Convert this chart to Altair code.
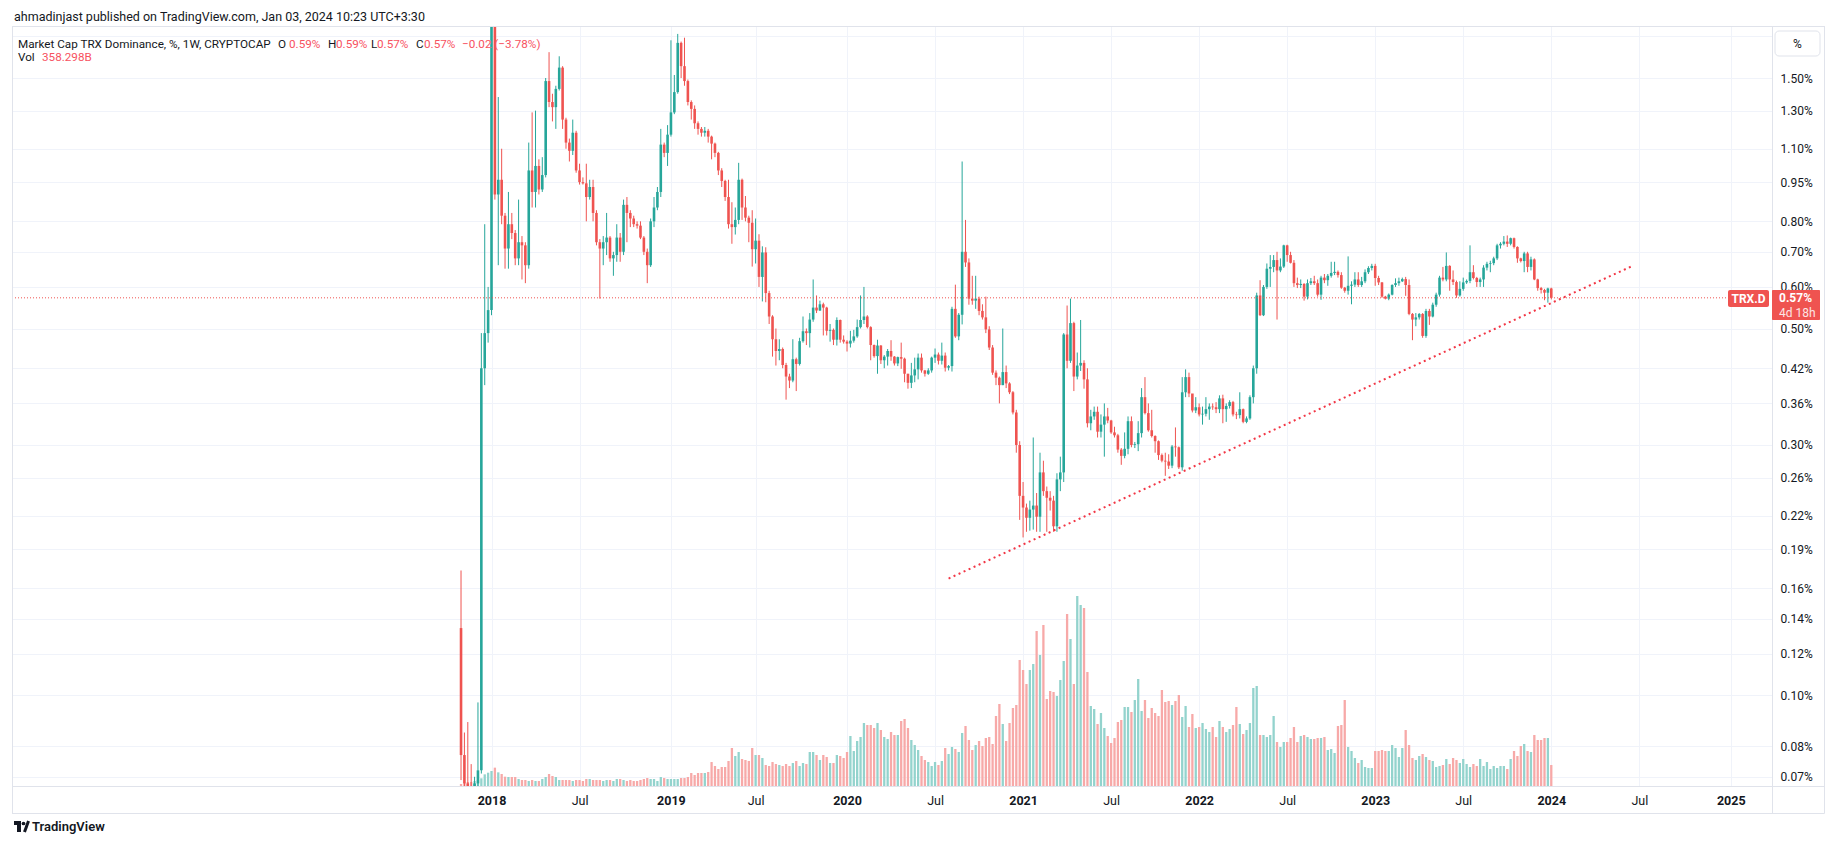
import altair as alt
import pandas as pd

# ---------------- data ----------------
FIRST_WEEK = "2017-10-30"   # first weekly bar (Mondays)
FIRST_OPEN = 0.1344

close = [
    0.077, 0.068, 0.0672, 0.0668, 0.068, 0.072, 0.42, 0.49, 0.542, 2.30,
    0.90, 0.96, 0.82, 0.71, 0.79, 0.76, 0.68, 0.73, 0.72, 0.66,
    1.00, 0.91, 1.02, 0.92, 0.98, 1.48, 1.35, 1.32, 1.43, 1.57,
    1.25, 1.13, 1.09, 1.18, 1.00, 0.95, 0.945, 0.89, 0.93, 0.83,
    0.73, 0.71, 0.73, 0.745, 0.68, 0.69, 0.745, 0.70, 0.86, 0.83,
    0.81, 0.79, 0.785, 0.745, 0.70, 0.66, 0.80, 0.85, 0.91, 1.12,
    1.08, 1.17, 1.29, 1.41, 1.75, 1.58, 1.48, 1.35, 1.31, 1.23,
    1.20, 1.18, 1.19, 1.16, 1.125, 1.08, 1.00, 0.955, 0.89, 0.79,
    0.78, 0.805, 0.96, 0.85, 0.813, 0.795, 0.708, 0.735, 0.627, 0.698,
    0.584, 0.527, 0.477, 0.453, 0.457, 0.426, 0.405, 0.398, 0.437, 0.428,
    0.473, 0.494, 0.49, 0.52, 0.548, 0.541, 0.556, 0.548, 0.495, 0.497,
    0.476, 0.519, 0.476, 0.472, 0.468, 0.474, 0.483, 0.503, 0.519, 0.527,
    0.503, 0.465, 0.443, 0.464, 0.435, 0.442, 0.453, 0.442, 0.429, 0.441,
    0.438, 0.41, 0.394, 0.407, 0.418, 0.44, 0.416, 0.41, 0.416, 0.44,
    0.446, 0.434, 0.444, 0.421, 0.424, 0.545, 0.483, 0.531, 0.70, 0.668,
    0.57, 0.565, 0.57, 0.54, 0.525, 0.498, 0.46, 0.412, 0.403, 0.39,
    0.413, 0.393, 0.378, 0.346, 0.30, 0.24, 0.228, 0.218, 0.226, 0.23,
    0.219, 0.266, 0.245, 0.238, 0.235, 0.21, 0.258, 0.266, 0.487, 0.434,
    0.512, 0.405, 0.425, 0.43, 0.40, 0.33, 0.34, 0.347, 0.318, 0.328,
    0.34, 0.334, 0.317, 0.313, 0.294, 0.286, 0.295, 0.333, 0.30, 0.301,
    0.316, 0.37, 0.345, 0.32, 0.312, 0.305, 0.287, 0.28, 0.279, 0.274,
    0.298, 0.297, 0.272, 0.378, 0.404, 0.376, 0.349, 0.354, 0.343, 0.344,
    0.351, 0.355, 0.354, 0.351, 0.368, 0.351, 0.356, 0.362, 0.343, 0.342,
    0.351, 0.332, 0.337, 0.37, 0.42, 0.578, 0.53, 0.60, 0.65, 0.655,
    0.675, 0.645, 0.656, 0.72, 0.69, 0.667, 0.61, 0.605, 0.608, 0.575,
    0.61, 0.615, 0.61, 0.58, 0.625, 0.618, 0.63, 0.638, 0.641, 0.632,
    0.598, 0.59, 0.603, 0.606, 0.62, 0.605, 0.615, 0.64, 0.652, 0.658,
    0.624, 0.612, 0.575, 0.57, 0.58, 0.605, 0.61, 0.615, 0.621, 0.605,
    0.533, 0.52, 0.525, 0.533, 0.484, 0.54, 0.527, 0.555, 0.58, 0.625,
    0.62, 0.658, 0.62, 0.613, 0.578, 0.595, 0.612, 0.616, 0.64, 0.624,
    0.613, 0.62, 0.653, 0.664, 0.666, 0.68, 0.72, 0.725, 0.732, 0.725,
    0.743, 0.715, 0.68, 0.672, 0.695, 0.655, 0.677, 0.62, 0.597, 0.592,
    0.585, 0.596, 0.572,
]

high = [
    0.173, 0.085, 0.089, 0.074, 0.070, 0.097, 0.49, 0.79, 0.60, 2.60,
    2.40, 1.38, 1.10, 0.83, 0.91, 0.83, 0.77, 0.88, 0.75, 0.73,
    1.13, 1.29, 1.30, 1.05, 1.06, 1.50, 1.68, 1.40, 1.45, 1.65,
    1.58, 1.26, 1.15, 1.25, 1.19, 1.03, 0.97, 1.03, 0.96, 0.96,
    0.84, 0.74, 0.75, 0.83, 0.75, 0.70, 0.79, 0.76, 0.88, 0.89,
    0.84, 0.82, 0.80, 0.80, 0.75, 0.71, 0.81, 0.89, 0.93, 1.20,
    1.13, 1.22, 1.77, 1.52, 1.82, 1.76, 1.79, 1.49, 1.36, 1.33,
    1.24, 1.21, 1.21, 1.20, 1.165, 1.13, 1.085, 1.01, 0.96, 0.96,
    0.87, 0.85, 1.034, 0.965, 0.894, 0.82, 0.84, 0.81, 0.756, 0.717,
    0.714, 0.59, 0.53, 0.50, 0.477, 0.46, 0.43, 0.41, 0.477, 0.44,
    0.48, 0.527, 0.50, 0.535, 0.62, 0.578, 0.565, 0.56, 0.55, 0.51,
    0.50, 0.525, 0.52, 0.485, 0.475, 0.495, 0.497, 0.52, 0.578, 0.60,
    0.53, 0.505, 0.466, 0.476, 0.465, 0.445, 0.457, 0.475, 0.443, 0.442,
    0.47, 0.44, 0.41, 0.43, 0.44, 0.448, 0.448, 0.417, 0.42, 0.442,
    0.458, 0.45, 0.47, 0.45, 0.426, 0.55, 0.606, 0.535, 1.04, 0.805,
    0.68, 0.63, 0.63, 0.575, 0.556, 0.575, 0.505, 0.465, 0.416, 0.405,
    0.50, 0.425, 0.395, 0.38, 0.35, 0.305, 0.255, 0.232, 0.235, 0.31,
    0.243, 0.29, 0.28, 0.25, 0.245, 0.24, 0.265, 0.285, 0.49, 0.553,
    0.57, 0.515, 0.45, 0.519, 0.435, 0.42, 0.35, 0.355, 0.355, 0.343,
    0.36, 0.353, 0.335, 0.325, 0.315, 0.296, 0.317, 0.34, 0.34, 0.304,
    0.333, 0.385, 0.404, 0.36, 0.35, 0.313, 0.306, 0.289, 0.29, 0.288,
    0.30, 0.324, 0.298, 0.404, 0.418, 0.412, 0.375, 0.37, 0.36, 0.355,
    0.37, 0.36, 0.36, 0.362, 0.373, 0.374, 0.36, 0.365, 0.364, 0.347,
    0.378, 0.352, 0.34, 0.373, 0.425, 0.585, 0.618, 0.605, 0.665, 0.69,
    0.69, 0.70, 0.68, 0.722, 0.722, 0.70, 0.675, 0.625, 0.62, 0.61,
    0.62, 0.624, 0.63, 0.62, 0.63, 0.635, 0.635, 0.67, 0.67, 0.645,
    0.64, 0.60, 0.686, 0.615, 0.64, 0.64, 0.627, 0.648, 0.657, 0.664,
    0.664, 0.63, 0.613, 0.577, 0.583, 0.607, 0.623, 0.625, 0.625, 0.627,
    0.62, 0.535, 0.535, 0.535, 0.535, 0.545, 0.545, 0.56, 0.585, 0.63,
    0.655, 0.698, 0.66, 0.645, 0.617, 0.615, 0.625, 0.62, 0.72, 0.66,
    0.627, 0.625, 0.66, 0.67, 0.673, 0.685, 0.725, 0.73, 0.75, 0.752,
    0.745, 0.745, 0.717, 0.682, 0.70, 0.70, 0.685, 0.68, 0.622, 0.60,
    0.595, 0.598, 0.598,
]

low = [
    0.069, 0.066, 0.066, 0.066, 0.066, 0.067, 0.071, 0.39, 0.47, 0.53,
    0.88, 0.66, 0.79, 0.65, 0.65, 0.74, 0.66, 0.66, 0.62, 0.61,
    0.65, 0.85, 0.85, 0.90, 0.91, 0.97, 1.32, 1.24, 1.20, 1.42,
    1.20, 1.10, 1.04, 1.07, 0.99, 0.94, 0.94, 0.80, 0.88, 0.80,
    0.72, 0.57, 0.66, 0.69, 0.67, 0.63, 0.67, 0.67, 0.69, 0.73,
    0.78, 0.78, 0.775, 0.74, 0.69, 0.61, 0.655, 0.78, 0.84, 0.89,
    1.06, 1.02, 1.16, 1.28, 1.40, 1.50, 1.45, 1.33, 1.25, 1.20,
    1.17, 1.16, 1.16, 1.13, 1.05, 1.06, 0.98, 0.93, 0.875, 0.775,
    0.725, 0.755, 0.79, 0.805, 0.80, 0.73, 0.656, 0.665, 0.60, 0.563,
    0.561, 0.51, 0.442, 0.425, 0.435, 0.42, 0.366, 0.385, 0.395, 0.38,
    0.425, 0.47, 0.465, 0.46, 0.515, 0.535, 0.54, 0.485, 0.485, 0.472,
    0.465, 0.464, 0.47, 0.468, 0.452, 0.46, 0.47, 0.48, 0.50, 0.51,
    0.50, 0.435, 0.44, 0.41, 0.428, 0.42, 0.425, 0.434, 0.425, 0.424,
    0.419, 0.395, 0.384, 0.385, 0.395, 0.40, 0.412, 0.405, 0.408, 0.412,
    0.43, 0.427, 0.427, 0.414, 0.416, 0.414, 0.48, 0.475, 0.509, 0.655,
    0.555, 0.555, 0.545, 0.53, 0.52, 0.49, 0.455, 0.408, 0.39, 0.36,
    0.39, 0.385, 0.375, 0.343, 0.29, 0.216, 0.20, 0.205, 0.206, 0.207,
    0.205, 0.205, 0.24, 0.205, 0.225, 0.205, 0.205, 0.245, 0.255, 0.42,
    0.43, 0.38, 0.40, 0.415, 0.384, 0.324, 0.32, 0.335, 0.31, 0.31,
    0.285, 0.33, 0.315, 0.31, 0.29, 0.275, 0.283, 0.288, 0.297, 0.296,
    0.292, 0.31, 0.343, 0.318, 0.31, 0.29, 0.281, 0.278, 0.262, 0.27,
    0.271, 0.285, 0.27, 0.268, 0.37, 0.37, 0.346, 0.345, 0.34, 0.328,
    0.34, 0.335, 0.35, 0.345, 0.345, 0.33, 0.332, 0.352, 0.34, 0.336,
    0.337, 0.33, 0.33, 0.335, 0.36, 0.41, 0.528, 0.528, 0.595, 0.60,
    0.64, 0.52, 0.64, 0.652, 0.67, 0.665, 0.60, 0.597, 0.597, 0.565,
    0.568, 0.605, 0.605, 0.575, 0.567, 0.61, 0.603, 0.625, 0.632, 0.625,
    0.595, 0.585, 0.58, 0.556, 0.60, 0.60, 0.60, 0.61, 0.635, 0.645,
    0.603, 0.605, 0.572, 0.568, 0.566, 0.578, 0.60, 0.603, 0.613, 0.577,
    0.53, 0.475, 0.505, 0.52, 0.48, 0.48, 0.508, 0.525, 0.55, 0.575,
    0.615, 0.615, 0.59, 0.605, 0.572, 0.575, 0.59, 0.608, 0.61, 0.62,
    0.60, 0.60, 0.60, 0.645, 0.64, 0.66, 0.675, 0.71, 0.72, 0.715,
    0.72, 0.71, 0.667, 0.668, 0.64, 0.64, 0.645, 0.618, 0.59, 0.583,
    0.566, 0.56, 0.568,
]

volume_bn = [
    34, 57, 68, 68, 85, 102, 131, 199, 227, 256,
    313, 233, 205, 159, 154, 154, 154, 119, 102, 102,
    85, 102, 85, 85, 119, 154, 205, 171, 154, 102,
    102, 102, 102, 85, 102, 102, 85, 119, 119, 102,
    102, 102, 85, 102, 102, 85, 119, 119, 102, 85,
    102, 85, 85, 102, 119, 136, 119, 119, 85, 154,
    136, 119, 119, 119, 119, 136, 136, 154, 222, 188,
    222, 222, 222, 239, 409, 341, 290, 324, 324, 427,
    648, 512, 580, 461, 444, 427, 648, 529, 529, 478,
    358, 341, 409, 375, 358, 341, 375, 341, 392, 427,
    341, 392, 375, 580, 580, 529, 444, 529, 495, 392,
    392, 529, 512, 478, 580, 853, 597, 768, 836, 1075,
    1041, 1041, 990, 1075, 955, 836, 802, 921, 870, 870,
    1109, 1143, 990, 785, 699, 614, 512, 444, 409, 341,
    409, 358, 427, 648, 546, 665, 631, 580, 904, 1024,
    785, 614, 699, 768, 682, 819, 836, 717, 1194, 1399,
    1058, 768, 1075, 1331, 1382, 2150, 1979, 1740, 1979, 2081,
    2644, 2235, 2747, 1484, 1621, 1604, 1535, 1808, 2133, 2934,
    2508, 1740, 3242, 3088, 3037, 1945, 1365, 1314, 1058, 1245,
    990, 853, 734, 819, 1092, 1126, 1348, 1348, 1263, 1467,
    1826, 1280, 1467, 1160, 1331, 1245, 1194, 1638, 1433, 1450,
    1382, 1450, 1553, 1177, 1365, 1007, 1228, 990, 1007, 1075,
    972, 921, 1007, 836, 1109, 1007, 921, 972, 1041, 1348,
    1058, 887, 955, 1075, 1672, 1706, 870, 870, 836, 870,
    1194, 751, 665, 751, 751, 819, 1007, 751, 853, 870,
    836, 802, 802, 819, 819, 836, 614, 631, 563, 1024,
    1041, 1467, 665, 597, 478, 392, 444, 324, 307, 307,
    597, 597, 614, 597, 597, 699, 648, 495, 648, 955,
    699, 478, 444, 512, 546, 495, 444, 427, 324, 341,
    358, 461, 375, 478, 444, 392, 461, 375, 324, 375,
    341, 461, 341, 409, 290, 341, 307, 341, 341, 290,
    461, 597, 512, 682, 717, 597, 580, 870, 785, 785,
    819, 819, 358,
]

trend_dates = ["2020-08-03", "2024-06-17"]
trend_values = [0.167, 0.658]

y_ticks = [0.07, 0.08, 0.10, 0.12, 0.14, 0.16, 0.19, 0.22, 0.26, 0.30, 0.36,
           0.42, 0.50, 0.60, 0.70, 0.80, 0.95, 1.10, 1.30, 1.50, 1.80]
x_ticks = ["2018-01-01", "2018-07-02", "2019-01-07", "2019-07-01", "2020-01-06",
           "2020-07-06", "2021-01-04", "2021-07-05", "2022-01-03", "2022-07-04",
           "2023-01-02", "2023-07-03", "2024-01-01", "2024-07-01", "2025-01-06"]

# ---------------- style ----------------
GREEN, RED = "#26a69a", "#ef5350"
GREEN_V, RED_V = "#93d3cd", "#f7a9a8"
DARK, GRID, FRAME, TREND = "#131722", "#f0f3fa", "#e0e3eb", "#f23645"
FONT = "Roboto"
W, H = 1760, 760

dates = pd.date_range(FIRST_WEEK, periods=len(close), freq="7D")
df = pd.DataFrame({
    "date": dates,
    "open": [FIRST_OPEN] + close[:-1],
    "high": high, "low": low, "close": close, "vol": volume_bn,
})
trend_df = pd.DataFrame({"date": pd.to_datetime(trend_dates), "value": trend_values})


def dt(s):
    y, m, d = (int(p) for p in s.split("-"))
    return alt.DateTime(year=y, month=m, date=d)


x_scale = alt.Scale(domain=[dt("2015-04-26"), dt("2025-03-22")])
y_scale = alt.Scale(type="log", domain=[0.06723, 1.8843])
vol_scale = alt.Scale(domain=[0, 12966])
up = "datum.close >= datum.open"
col = alt.condition(up, alt.value(GREEN), alt.value(RED))
colv = alt.condition(up, alt.value(GREEN_V), alt.value(RED_V))

x_axis = alt.Axis(
    values=[dt(s) for s in x_ticks], title=None, grid=True, gridColor=GRID,
    domain=False, ticks=False, labelPadding=8, labelFont=FONT, labelFontSize=12.5,
    labelColor=DARK, labelAngle=0,
    labelExpr="month(datum.value) == 0 ? timeFormat(datum.value, '%Y') : 'Jul'",
    labelFontWeight={"condition": {"test": "month(datum.value) == 0", "value": "bold"},
                     "value": "normal"},
)
y_axis = alt.Axis(
    orient="right", values=y_ticks, title=None, grid=True, gridColor=GRID,
    domain=False, ticks=False, labelPadding=8, labelFont=FONT, labelFontSize=12,
    labelColor=DARK, labelBaseline="middle",
    labelExpr="datum.value > 1.7 ? '' : format(datum.value, '.2f') + '%'",
)

xe = alt.X("date:T", scale=x_scale, axis=x_axis)

vol = alt.Chart(df).mark_bar(width=2.3).encode(
    x=xe,
    y=alt.Y("vol:Q", scale=vol_scale, axis=None),
    color=colv,
)
wick = alt.Chart(df).mark_rule(strokeWidth=1, clip=True).encode(
    x=xe, y=alt.Y("low:Q", scale=y_scale, axis=y_axis), y2="high:Q", color=col)
body = alt.Chart(df).mark_bar(width=2.6, clip=True).encode(
    x=xe, y=alt.Y("open:Q", scale=y_scale, axis=None), y2="close:Q", color=col)
trend = alt.Chart(trend_df).mark_line(
    color=TREND, strokeWidth=2, strokeDash=[2, 3.5], clip=True).encode(
    x=xe, y=alt.Y("value:Q", scale=y_scale, axis=None))
pline = alt.Chart(df.tail(1)).mark_rule(
    color=RED, strokeWidth=1, strokeDash=[1, 2]).encode(
    y=alt.Y("close:Q", scale=y_scale, axis=None), x=alt.value(0), x2=alt.value(1716))

one = pd.DataFrame({"a": [0]})


def text(t, x, y, color=DARK, size=12, weight="normal", align="left", opacity=1.0):
    return alt.Chart(pd.DataFrame({"t": [t]})).mark_text(
        align=align, baseline="middle", font=FONT, fontSize=size,
        fontWeight=weight, color=color, opacity=opacity).encode(
        x=alt.value(x), y=alt.value(y), text="t:N")


def box(x0, x1, y0, y1, fill, stroke=None, r=2):
    kw = dict(color=fill, cornerRadius=r)
    if stroke:
        kw.update(stroke=stroke, strokeWidth=1)
    return alt.Chart(one).mark_rect(**kw).encode(
        x=alt.value(x0), x2=alt.value(x1), y=alt.value(y0), y2=alt.value(y1))


def line(x0, y0, x1, y1, color=FRAME, w=1):
    return alt.Chart(one).mark_rule(color=color, strokeWidth=w).encode(
        x=alt.value(x0), x2=alt.value(x1), y=alt.value(y0), y2=alt.value(y1))


last = f"{close[-1]:.2f}%"
LR = "#f7525f"
LS = 11.7
decor = [
    # frame
    line(0, 0.5, 1812.5, 0.5), line(0, 760.5, 1812.5, 760.5), line(0, 787.5, 1812.5, 787.5),
    line(0.5, 0, 0.5, 787.5), line(1760.5, 0, 1760.5, 787.5), line(1812.5, 0, 1812.5, 787.5),
    # header + legend
    text("ahmadinjast published on TradingView.com, Jan 03, 2024 10:23 UTC+3:30", 2, -9.5, size=12.5),
    text("Market Cap TRX Dominance, %, 1W, CRYPTOCAP", 6, 17.5, size=LS),
    text("O", 266, 17.5, size=LS), text("0.59%", 277, 17.5, color=LR, size=LS),
    text("H", 316, 17.5, size=LS), text("0.59%", 324, 17.5, color=LR, size=LS),
    text("L", 359, 17.5, size=LS), text("0.57%", 365, 17.5, color=LR, size=LS),
    text("C", 404, 17.5, size=LS), text("0.57%", 412, 17.5, color=LR, size=LS),
    text("\u22120.02 (\u22123.78%)", 450, 17.5, color=LR, size=LS),
    text("Vol", 6, 31, size=LS), text("358.298B", 30, 31, color=LR, size=LS),
    # right side labels
    box(1763, 1808, 5, 30, "white", stroke=FRAME, r=4),
    text("%", 1785.5, 17.5, align="center"),
    box(1716, 1757, 264, 281, RED),
    text("TRX.D", 1736.5, 272.5, color="white", size=12, weight="bold", align="center"),
    box(1760, 1808, 264, 294, RED, r=1),
    text(last, 1767, 272, color="white", size=12, weight="bold"),
    text("4d 18h", 1767, 287, color="white", size=12, opacity=0.85),
    # TradingView logo
    box(2, 9, 795, 799, DARK, r=0), box(5, 9, 795, 806, DARK, r=0),
    alt.Chart(one).mark_point(filled=True, size=14, color=DARK, opacity=1).encode(
        x=alt.value(11.5), y=alt.value(797.5)),
    line(12.5, 806, 16.5, 795, color=DARK, w=3),
    text("TradingView", 20, 801, size=13, weight=600),
]

chart = alt.layer(vol, wick, body, trend, pline, *decor).resolve_scale(
    y="independent"
).properties(
    width=W, height=H, background="white",
    padding={"left": 4, "top": 18, "right": 53, "bottom": 48},
    autosize=alt.AutoSizeParams(type="none"),
).configure_view(stroke="transparent")

chart.save("out.html", embed_options={"renderer": "svg", "actions": False})
